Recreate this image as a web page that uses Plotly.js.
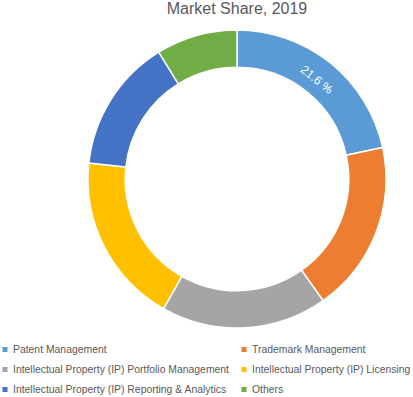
<!DOCTYPE html>
<html>
<head>
<meta charset="utf-8">
<script src="https://cdn.plot.ly/plotly-3.0.1.min.js"></script>
<style>html,body{margin:0;padding:0;background:#fff;}#chart{width:413px;height:397px;}</style>
</head>
<body>
<div id="chart"></div>
<script>
const labels = [
  "Patent Management",
  "Trademark Management",
  "Intellectual Property (IP) Portfolio Management",
  "Intellectual Property (IP) Licensing",
  "Intellectual Property (IP) Reporting & Analytics",
  "Others"
];
const shares = [21.6, 18.6, 18.0, 18.5, 14.5, 8.8];
const colors = ["#5B9BD5", "#ED7D31", "#A5A5A5", "#FFC000", "#4472C4", "#70AD47"];
const shownLabels = [true, false, false, false, false, false];
const titleText = "Market Share, 2019";

const W = 413, H = 397;
const px = x => x / W;
const py = y => 1 - y / H;

const trace = {
  type: "pie",
  labels: labels,
  values: shares,
  sort: false,
  direction: "clockwise",
  rotation: 0,
  hole: 0.75,
  marker: {colors: colors, line: {color: "#ffffff", width: 1.5}},
  texttemplate: shownLabels.map(s => s ? "%{value:.1f} %" : ""),
  textposition: "inside",
  insidetextorientation: "tangential",
  insidetextfont: {family: "Liberation Sans, Arial, sans-serif", size: 12, color: "#ffffff"},
  hoverinfo: "label+value",
  domain: {x: [px(88), px(386)], y: [py(328), py(30)]},
  showlegend: false
};

// legend built from labels/colors, laid out in 2 columns
const colX = [11, 250];
const markX = [5, 244];
const rowY = [349.5, 369.5, 389.5];
const annotations = [];
const shapes = [];
labels.forEach((lab, i) => {
  const c = i % 2, r = Math.floor(i / 2);
  annotations.push({
    text: lab, xref: "paper", yref: "paper",
    x: px(colX[c]), y: py(rowY[r]), xanchor: "left", yanchor: "middle",
    showarrow: false,
    font: {family: "Liberation Sans, Arial, sans-serif", size: 10.4, color: "#595959"}
  });
  shapes.push({
    type: "rect", xref: "paper", yref: "paper",
    x0: px(markX[c] - 2.5), x1: px(markX[c] + 2.5),
    y0: py(rowY[r] + 2.5), y1: py(rowY[r] - 2.5),
    fillcolor: colors[i], line: {width: 0}
  });
});

const layout = {
  width: W, height: H,
  margin: {l: 0, r: 0, t: 0, b: 0},
  paper_bgcolor: "#ffffff",
  title: {
    text: titleText,
    font: {family: "Liberation Sans, Arial, sans-serif", size: 16, color: "#595959"},
    x: px(237), xanchor: "center", xref: "paper",
    y: 1 - 8.5 / H, yanchor: "middle", yref: "container"
  },
  annotations: annotations,
  shapes: shapes,
  showlegend: false
};

Plotly.newPlot("chart", [trace], layout, {displayModeBar: false, staticPlot: true});
</script>
</body>
</html>
